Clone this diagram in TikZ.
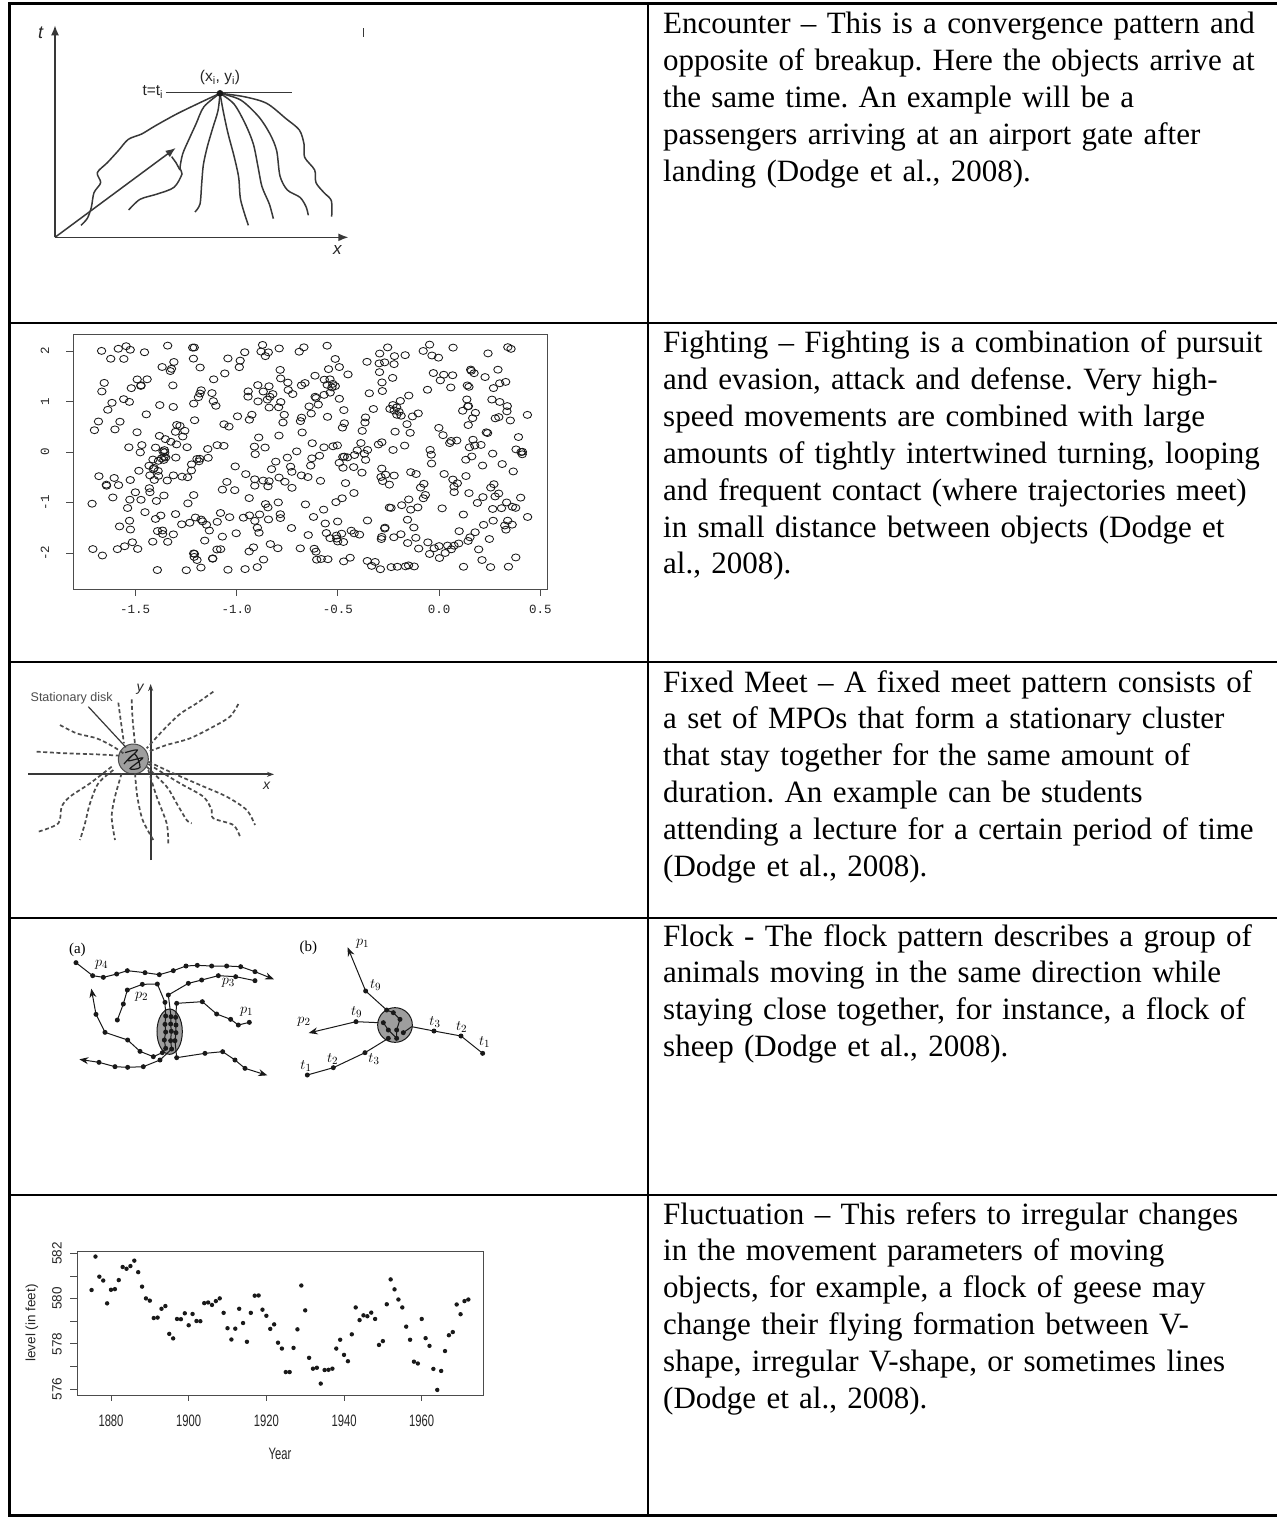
\documentclass[tikz,border=0pt]{standalone}
\usepackage{fontspec}
\setmainfont{Liberation Serif}
\newfontfamily\plotsans{Liberation Sans}
\newfontfamily\plotmono{Liberation Mono}
\usetikzlibrary{arrows.meta}
\frenchspacing
\definecolor{rule}{gray}{0}
\definecolor{ink}{gray}{0.1}
\definecolor{sketch}{gray}{0.22}
\definecolor{dashink}{gray}{0.3}
\definecolor{frame}{gray}{0.3}
\definecolor{blob}{gray}{0.62}

\tikzset{
  cell/.style={anchor=base west,inner sep=0pt,text width=640pt,align=left,
    font=\fontsize{31.0}{36.9}\selectfont},
  axlab/.style={inner sep=0pt,font=\plotsans\fontsize{13.5}{13.5}\selectfont,text=black!85},
  monolab/.style={inner sep=0pt,font=\plotmono\fontsize{12.5}{12.5}\selectfont,text=black!85},
  trail/.style={draw=dashink,line width=1.7pt,dash pattern=on 4pt off 2.6pt},
  wig/.style={draw=sketch,line width=1.5pt},
  flk/.style={draw=ink,line width=1pt},
  tiny/.style={inner sep=0pt,font=\fontsize{15}{15}\selectfont}
}

\begin{document}
\begin{tikzpicture}[x=1pt,y=-1pt]
\useasboundingbox (0,0) rectangle (1277,1517);
\fill[white] (0,0) rectangle (1277,1517);

% table rules
\draw[draw=rule,line width=3pt] (9,4) -- (1277,4);
\draw[draw=rule,line width=3pt] (9,2.5) -- (9,1517);
\draw[draw=rule,line width=2.2pt] (648,4) -- (648,1517);
\foreach \yy in {323,662,918,1195}
  \draw[draw=rule,line width=2.2pt] (9,\yy) -- (1277,\yy);
\draw[draw=rule,line width=3pt] (9,1515.5) -- (1277,1515.5);

% right column texts
\node[cell] (encText) at (663,33.5) {Encounter – This is a convergence pattern and\\
opposite of breakup. Here the objects arrive at\\
the same time. An example will be a\\
passengers arriving at an airport gate after\\
landing (Dodge et al., 2008).};
\node[cell] (fightText) at (663,352.5) {Fighting – Fighting is a combination of pursuit\\
and evasion, attack and defense. Very high-\\
speed movements are combined with large\\
amounts of tightly intertwined turning, looping\\
and frequent contact (where trajectories meet)\\
in small distance between objects (Dodge et\\
al., 2008).};
\node[cell] (meetText) at (663,692) {Fixed Meet – A fixed meet pattern consists of\\
a set of MPOs that form a stationary cluster\\
that stay together for the same amount of\\
duration. An example can be students\\
attending a lecture for a certain period of time\\
(Dodge et al., 2008).};
\node[cell] (flockText) at (663,946) {Flock - The flock pattern describes a group of\\
animals moving in the same direction while\\
staying close together, for instance, a flock of\\
sheep (Dodge et al., 2008).};
\node[cell] (flucText) at (663,1224) {Fluctuation – This refers to irregular changes\\
in the movement parameters of moving\\
objects, for example, a flock of geese may\\
change their flying formation between V-\\
shape, irregular V-shape, or sometimes lines\\
(Dodge et al., 2008).};

% encounter
\begin{scope}[scale=1/3]
\draw[wig,-{Latex[length=10pt,width=8pt]}] (165,712) -- (165,76);
\draw[wig,-{Latex[length=10pt,width=8pt]}] (165,712) -- (1045,712);
\node[axlab,font=\plotsans\itshape\fontsize{18}{18}\selectfont] (encT) at (122,98) {t};
\node[axlab,font=\plotsans\itshape\fontsize{17}{17}\selectfont] (encX) at (1012,750) {x};
\draw[wig] (498,278) -- (875,278);
\node[axlab,anchor=east,font=\plotsans\fontsize{15.5}{15.5}\selectfont] (encLevel) at (490,276) {t=t\textsubscript{i}};
\node[axlab,font=\plotsans\fontsize{15.5}{15.5}\selectfont] (encPt) at (660,232) {(x\textsubscript{i}, y\textsubscript{i})};
\draw[wig,-{Latex[length=10pt,width=8pt]}] (165,712) -- (527,444);
\draw[wig] plot[smooth] coordinates {(660,280) (600,308) (530,342) (465,378) (425,402) (385,418) (355,452) (322,488) (292,518) (302,548) (282,578) (274,622) (262,655) (243,676)};
\draw[wig] plot[smooth] coordinates {(660,280) (612,320) (588,372) (566,420) (548,462) (540,505) (546,522) (522,562) (472,582) (420,598) (386,630)};
\draw[wig] (515,470) -- (528,488) -- (540,510);
\draw[wig] plot[smooth] coordinates {(660,280) (654,332) (638,385) (622,440) (610,495) (605,552) (600,612) (585,636)};
\draw[wig] plot[smooth] coordinates {(660,280) (670,335) (684,400) (702,468) (716,532) (722,600) (745,676)};
\draw[wig] plot[smooth] coordinates {(660,280) (702,312) (736,372) (760,432) (774,500) (786,560) (808,612) (820,656)};
\draw[wig] plot[smooth] coordinates {(660,280) (722,300) (776,350) (810,402) (830,452) (840,528) (862,570) (900,592) (918,620) (925,646)};
\draw[wig] plot[smooth] coordinates {(660,280) (732,290) (800,310) (858,356) (898,390) (912,432) (914,472) (944,510) (948,548) (972,578) (994,602) (995,650)};
\fill[ink] (660,280) circle (10);
\draw[wig] (1090,85) -- (1090,112);
\end{scope}

% fighting
\draw[draw=frame,line width=0.9pt] (73,334) rectangle (547,589);
\pgfmathsetseed{2024}
\foreach \k in {1,...,500}{
  \pgfmathsetmacro{\sx}{439+202.5*(-1.72+2.16*rnd)}
  \pgfmathsetmacro{\sy}{452-50.5*(-2.35+4.48*rnd)}
  \draw[draw=ink,line width=0.85pt] (\sx,\sy) circle [x radius=4.2,y radius=3.5];
}
\foreach \v/\t [count=\c] in {-1.5/-1.5,-1/-1.0,-0.5/-0.5,0/0.0,0.5/0.5}{
  \draw[draw=frame,line width=0.9pt] ({439+202.5*\v},589) -- ({439+202.5*\v},596);
  \node[monolab] (fightX\c) at ({439+202.5*\v},609) {\t};
}
\foreach \v [count=\c] in {-2,...,2}{
  \draw[draw=frame,line width=0.9pt] (73,{452-50.5*\v}) -- (66,{452-50.5*\v});
  \node[monolab,rotate=90] (fightY\c) at (45,{452-50.5*\v}) {\v};
}

% fixed meet
\begin{scope}[shift={(0,610)},scale=1/3]
\fill[blob] (400,447) circle (45);
\draw[draw=dashink,line width=1pt] (400,447) circle (45);
\draw[draw=ink,line width=1.2pt] plot[smooth] coordinates {(375,428) (412,420) (384,452) (428,444) (390,476) (420,472) (404,432) (372,462)};
\draw[draw=sketch,line width=1.8pt,-{Stealth[length=7pt,width=5pt]}] (452,750) -- (452,222);
\draw[draw=sketch,line width=1.8pt,-{Stealth[length=7pt,width=5pt]}] (85,493) -- (822,493);
\node[axlab,font=\plotsans\itshape\fontsize{14}{14}\selectfont] (meetY) at (420,238) {y};
\node[axlab,font=\plotsans\itshape\fontsize{14}{14}\selectfont] (meetX) at (800,528) {x};
\node[axlab,font=\plotsans\fontsize{12.5}{12.5}\selectfont,text=black!70] (meetDisk) at (215,265) {Stationary disk};
\draw[draw=sketch,line width=1.2pt] (265,290) -- (378,412);
\draw[trail] plot[smooth] coordinates {(640,245) (590,280) (540,312) (490,360) (440,415)};
\draw[trail] plot[smooth] coordinates {(715,282) (690,320) (640,350) (570,385) (500,405) (445,425)};
\draw[trail] plot[smooth] coordinates {(180,345) (230,370) (290,385) (340,410) (370,430)};
\draw[trail] plot[smooth] coordinates {(110,425) (200,430) (290,433) (358,437)};
\draw[trail] plot[smooth] coordinates {(355,278) (362,330) (372,400)};
\draw[trail] plot[smooth] coordinates {(395,268) (398,330) (405,402)};
\draw[trail] plot[smooth] coordinates {(445,455) (520,490) (600,525) (680,560) (740,600) (765,645)};
\draw[trail] plot[smooth] coordinates {(440,470) (500,530) (530,580) (560,630) (575,640)};
\draw[trail] plot[smooth] coordinates {(445,462) (540,520) (610,560) (635,600) (640,625) (700,645) (720,680)};
\draw[trail] plot[smooth] coordinates {(445,480) (470,560) (500,640) (505,700)};
\draw[trail] plot[smooth] coordinates {(405,490) (412,560) (428,630) (460,690)};
\draw[trail] plot[smooth] coordinates {(365,490) (345,560) (335,620) (345,690)};
\draw[trail] plot[smooth] coordinates {(340,480) (295,520) (270,580) (255,640) (240,690)};
\draw[trail] plot[smooth] coordinates {(335,470) (270,520) (210,560) (185,590) (175,640) (115,665)};
\end{scope}

% flock
\begin{scope}[shift={(0,830)},scale=1/3]
\node[tiny] (flockA) at (232,360) {(a)};
\node[tiny] (flockB) at (925,355) {(b)};
\fill[blob] (509,605) ellipse [x radius=38,y radius=68];
\draw[flk] (509,605) ellipse [x radius=38,y radius=68];
\draw[flk,-{Stealth[length=9pt,width=7pt]}] (228,398) -- (278,437) -- (310,442) -- (350,432) -- (382,422) -- (435,428) -- (478,434) -- (520,422) -- (558,408) -- (592,406) -- (635,408) -- (680,408) -- (722,410) -- (765,425) -- (822,448);
\draw[flk] (505,495) -- (565,460) -- (605,450) -- (655,437) -- (707,440) -- (765,452);
\draw[flk] (352,570) -- (370,522) -- (382,480) -- (427,463) -- (472,462) -- (495,517);
\draw[flk] (530,520) -- (607,515) -- (650,552) -- (692,568) -- (715,585) -- (748,577);
\draw[flk,-{Stealth[length=9pt,width=7pt]}] (487,668) -- (460,680) -- (420,664) -- (383,630) -- (315,607) -- (288,553) -- (274,476);
\draw[flk,-{Stealth[length=9pt,width=7pt]}] (480,690) -- (430,710) -- (383,712) -- (345,710) -- (297,697) -- (238,688);
\draw[flk,-{Stealth[length=9pt,width=7pt]}] (530,683) -- (615,670) -- (668,665) -- (705,690) -- (735,715) -- (802,736);
\draw[flk] (495,517) -- (497,558) -- (495,583) -- (497,606) -- (493,630) -- (497,655) -- (487,668);
\draw[flk] (505,495) -- (513,560) -- (512,582) -- (514,604) -- (512,632) -- (515,657) -- (480,690);
\draw[flk] (530,520) -- (527,562) -- (528,585) -- (528,608) -- (525,632) -- (530,683);
\foreach \p in {(228,398),(278,437),(310,442),(350,432),(382,422),(435,428),(478,434),(520,422),(558,408),(592,406),(635,408),(680,408),(722,410),(765,425),
  (505,495),(565,460),(605,450),(655,437),(707,440),(765,452),
  (352,570),(370,522),(382,480),(427,463),(472,462),(495,517),
  (530,520),(607,515),(650,552),(692,568),(715,585),(748,577),
  (460,680),(420,664),(383,630),(315,607),(288,553),
  (430,710),(383,712),(345,710),(297,697),
  (530,683),(615,670),(668,665),(705,690),(735,715),
  (497,558),(513,560),(527,562),(495,583),(512,582),(528,585),(497,606),(514,604),(528,608),(493,630),(512,632),(525,632),(497,655),(515,657),(487,668),(480,690)}
  \fill[ink] \p circle (7.5);
\node[tiny] (flockP4) at (305,405) {$p_4$};
\node[tiny] (flockP2) at (425,500) {$p_2$};
\node[tiny] (flockP3) at (685,458) {$p_3$};
\node[tiny] (flockP1) at (740,545) {$p_1$};
% (b)
\fill[blob] (1185,585) circle (52);
\draw[flk] (1185,585) circle (52);
\draw[flk,-{Stealth[length=9pt,width=7pt]}] (1160,540) -- (1097,483) -- (1043,352);
\draw[flk,-{Stealth[length=9pt,width=7pt]}] (1135,578) -- (1068,575) -- (926,609);
\draw[flk] (1235,590) -- (1302,603) -- (1383,618) -- (1448,670);
\draw[flk] (1165,625) -- (1095,668) -- (1000,713) -- (922,735);
\draw[flk] (1160,540) -- (1180,548) -- (1200,568) -- (1190,600) -- (1190,625);
\draw[flk] (1150,578) -- (1165,600) -- (1190,625);
\draw[flk] (1210,608) -- (1235,590);
\foreach \p in {(1097,483),(1068,575),(1302,603),(1383,618),(1448,670),(1095,668),(1000,713),(922,735),
  (1160,540),(1180,548),(1200,568),(1190,600),(1190,625),(1150,578),(1165,600),(1210,608),(1165,625)}
  \fill[ink] \p circle (7.5);
\node[tiny] (flockBp1) at (1088,340) {$p_1$};
\node[tiny] (flockBt9a) at (1127,465) {$t_9$};
\node[tiny] (flockBp2) at (912,575) {$p_2$};
\node[tiny] (flockBt9b) at (1070,545) {$t_9$};
\node[tiny] (flockBt3a) at (1305,575) {$t_3$};
\node[tiny] (flockBt2a) at (1385,592) {$t_2$};
\node[tiny] (flockBt1a) at (1454,637) {$t_1$};
\node[tiny] (flockBt3b) at (1122,688) {$t_3$};
\node[tiny] (flockBt2b) at (998,688) {$t_2$};
\node[tiny] (flockBt1b) at (918,708) {$t_1$};
\end{scope}

% fluctuation
\draw[draw=frame,line width=0.9pt] (77,1251) rectangle (483,1395);
\foreach \yr/\lv in {1875/580.38,1876/581.86,1877/580.97,1878/580.80,1879/579.79,1880/580.39,1881/580.42,1882/580.82,1883/581.40,1884/581.32,1885/581.44,1886/581.68,1887/581.17,1888/580.53,1889/580.01,1890/579.91,1891/579.14,1892/579.16,1893/579.55,1894/579.67,1895/578.44,1896/578.24,1897/579.10,1898/579.09,1899/579.35,1900/578.82,1901/579.32,1902/579.01,1903/579.00,1904/579.80,1905/579.83,1906/579.72,1907/579.89,1908/580.01,1909/579.37,1910/578.69,1911/578.19,1912/578.67,1913/579.55,1914/578.92,1915/578.09,1916/579.37,1917/580.13,1918/580.14,1919/579.51,1920/579.24,1921/578.66,1922/578.86,1923/578.05,1924/577.79,1925/576.75,1926/576.75,1927/577.82,1928/578.64,1929/580.58,1930/579.48,1931/577.38,1932/576.90,1933/576.94,1934/576.24,1935/576.84,1936/576.85,1937/576.90,1938/577.79,1939/578.18,1940/577.51,1941/577.23,1942/578.42,1943/579.61,1944/579.05,1945/579.26,1946/579.22,1947/579.38,1948/579.10,1949/577.95,1950/578.12,1951/579.75,1952/580.85,1953/580.41,1954/579.96,1955/579.61,1956/578.76,1957/578.18,1958/577.21,1959/577.13,1960/579.10,1961/578.25,1962/577.91,1963/576.89,1964/575.96,1965/576.80,1966/577.68,1967/578.38,1968/578.52,1969/579.74,1970/579.31,1971/579.89,1972/579.96}{
  \pgfmathsetmacro{\hx}{111+(\yr-1880)*3.884}
  \pgfmathsetmacro{\vy}{1389-(\lv-576)*22.6}
  \fill[ink] (\hx,\vy) circle (2.2);
}
\foreach \yr [count=\c] in {1880,1900,...,1960}{
  \pgfmathsetmacro{\hx}{111+(\yr-1880)*3.884}
  \draw[draw=frame,line width=0.9pt] (\hx,1395) -- (\hx,1401);
  \node[axlab,font=\plotsans\fontsize{16.5}{16.5}\selectfont] (flucX\c) at (\hx,1421) {\scalebox{0.68}[1]{\yr}};
}
\foreach \lv in {576,...,582}
  \draw[draw=frame,line width=0.9pt] (77,{1389-(\lv-576)*22.6}) -- (70,{1389-(\lv-576)*22.6});
\foreach \lv [count=\c] in {576,578,580,582}
  \node[axlab,rotate=90] (flucY\c) at (57,{1389-(\lv-576)*22.6}) {\lv};
\node[axlab,rotate=90] (flucYlab) at (32,1323) {level (in feet)};
\node[axlab,font=\plotsans\fontsize{16.5}{16.5}\selectfont] (flucXlab) at (280,1454) {\scalebox{0.68}[1]{Year}};
\end{tikzpicture}
\end{document}
